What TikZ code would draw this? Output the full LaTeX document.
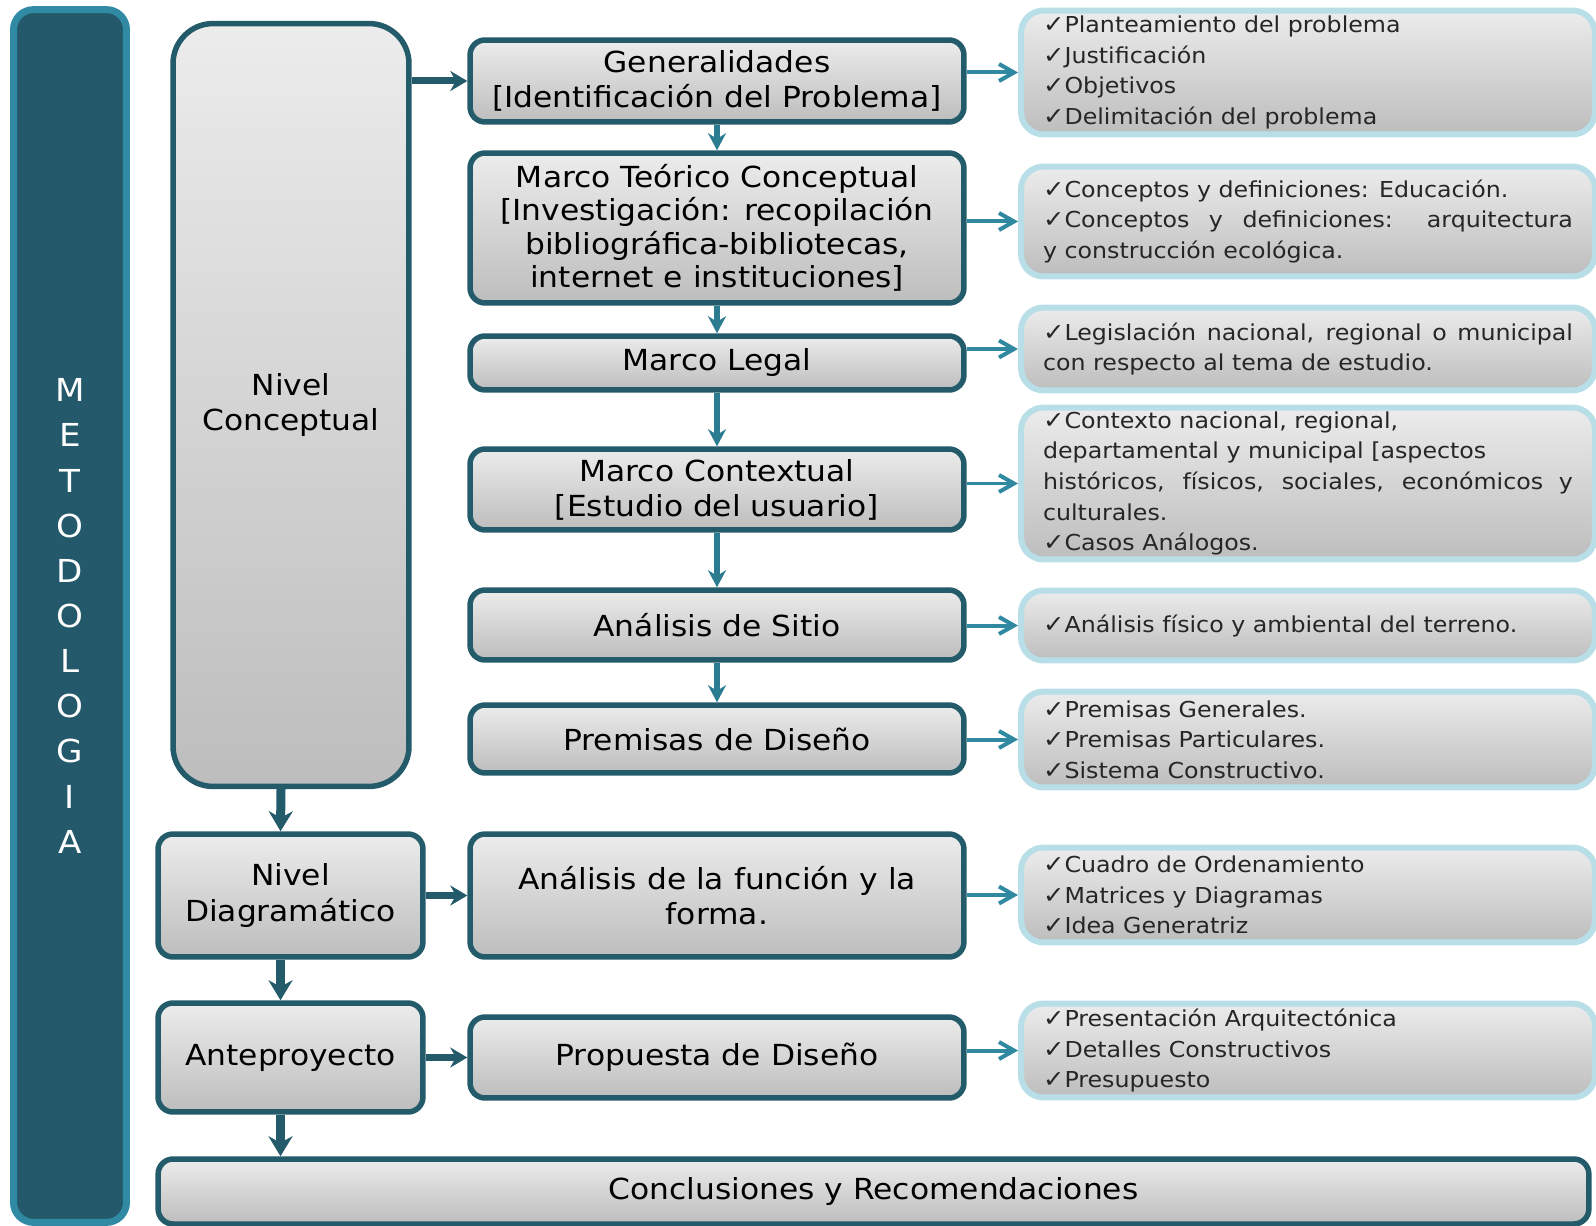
\documentclass[tikz,border=0pt]{standalone}
\usepackage{fontspec}
\setmainfont{DejaVu Sans}[FakeStretch=1.08]
\usepackage{xcolor}
\usetikzlibrary{arrows.meta}
\definecolor{boxline}{HTML}{245B6A}
\definecolor{barfill}{HTML}{23596A}
\definecolor{barline}{HTML}{318AA3}
\definecolor{listline}{HTML}{B8DEE8}
\definecolor{midteal}{HTML}{2B7B91}
\definecolor{lightteal}{HTML}{3089A1}
\definecolor{shadetop}{HTML}{ECECEC}
\definecolor{shadebot}{HTML}{BDBDBD}
\definecolor{listtext}{HTML}{262626}
\newcommand{\chk}{{\fontsize{13.5}{13}\selectfont ✓}}
\setlength{\parindent}{0pt}
\hyphenpenalty=10000
\exhyphenpenalty=10000

\begin{document}
\begin{tikzpicture}[x=0.02cm, y=-0.02cm]
	\tikzstyle{mainbox} = [draw=boxline, line width=0.11cm, rounded corners=0.3cm, top color=shadetop, bottom color=shadebot, align=center, inner sep=0pt, font=\fontsize{16.5}{20}\selectfont]
	\tikzstyle{listbox} = [draw=listline, line width=0.12cm, rounded corners=0.45cm, top color=shadetop, bottom color=shadebot, align=justify, text width=10.6cm, inner xsep=0.44cm, inner ysep=0pt, text=listtext, font=\fontsize{12.5}{17.4}\selectfont]
	\tikzstyle{bigarrow} = [draw=boxline, line width=0.18cm, -{Stealth[length=0.4cm, width=0.48cm]}]
	\tikzstyle{sidearrow} = [draw=boxline, line width=0.14cm, -{Stealth[length=0.34cm, width=0.4cm]}]
	\tikzstyle{midarrow} = [draw=midteal, line width=0.13cm, -{Stealth[length=0.34cm, width=0.36cm]}]
	\tikzstyle{thinarrow} = [draw=lightteal, line width=0.08cm, -{Straight Barb[length=0.3cm, width=0.34cm]}]
	\useasboundingbox (0,0) rectangle (1596,1226);

	% barra lateral
	\node[draw=barline, line width=0.14cm, rounded corners=0.4cm, fill=barfill, minimum width=2.26cm, minimum height=24.26cm, text=white, align=center, font=\fontsize{18}{25.7}\selectfont] (bar) at (70,616) {M\\E\\T\\O\\D\\O\\L\\O\\G\\I\\A};

	% niveles
	\node[mainbox, rounded corners=0.8cm, minimum width=4.72cm, minimum height=15.26cm] (nc) at (291,405) {Nivel\\Conceptual};
	\node[mainbox, minimum width=5.3cm, minimum height=2.46cm] (nd) at (290.5,895.5) {Nivel\\Diagramático};
	\node[mainbox, minimum width=5.3cm, minimum height=2.18cm] (ante) at (290.5,1057.5) {Anteproyecto};
	\node[mainbox, minimum width=28.62cm, minimum height=1.3cm] (concl) at (873.5,1191.5) {Conclusiones y Recomendaciones};

	% etapas
	\node[mainbox, minimum width=9.88cm, minimum height=1.64cm] (gen) at (717,81) {Generalidades\\{[}Identificación del Problema]};
	\node[mainbox, minimum width=9.88cm, minimum height=3cm, font=\fontsize{16.5}{19}\selectfont] (mtc) at (717,228) {Marco Teórico Conceptual\\{[}Investigación: recopilación\\bibliográfica-bibliotecas,\\internet e instituciones]};
	\node[mainbox, minimum width=9.88cm, minimum height=1.08cm] (legal) at (717,363) {Marco Legal};
	\node[mainbox, minimum width=9.88cm, minimum height=1.62cm] (ctx) at (717,489.5) {Marco Contextual\\{[}Estudio del usuario]};
	\node[mainbox, minimum width=9.88cm, minimum height=1.4cm] (sitio) at (717,625) {Análisis de Sitio};
	\node[mainbox, minimum width=9.88cm, minimum height=1.36cm] (prem) at (717,739) {Premisas de Diseño};
	\node[mainbox, minimum width=9.88cm, minimum height=2.46cm] (af) at (717,895.5) {Análisis de la función y la\\forma.};
	\node[mainbox, minimum width=9.88cm, minimum height=1.62cm] (prop) at (717,1057.5) {Propuesta de Diseño};

	% contenidos
	\node[listbox, minimum height=2.48cm] (l1) at (1308,72.5) {\chk Planteamiento del problema\par \chk Justificación\par \chk Objetivos\par \chk Delimitación del problema};
	\node[listbox, minimum height=2.2cm] (l2) at (1308,221.5) {\chk Conceptos y definiciones: Educación.\par \chk Conceptos y definiciones: arquitectura\linebreak y construcción ecológica.};
	\node[listbox, minimum height=1.66cm] (l3) at (1308,349) {\chk Legislación nacional, regional o municipal\linebreak con respecto al tema de estudio.};
	\node[listbox, minimum height=3.04cm] (l4) at (1308,483.5) {\chk Contexto nacional, regional,\par departamental y municipal [aspectos\par históricos, físicos, sociales, económicos y\linebreak culturales.\par \chk Casos Análogos.};
	\node[listbox, minimum height=1.4cm] (l5) at (1308,625.5) {\chk Análisis físico y ambiental del terreno.};
	\node[listbox, minimum height=1.92cm] (l6) at (1308,739.5) {\chk Premisas Generales.\par \chk Premisas Particulares.\par \chk Sistema Constructivo.};
	\node[listbox, minimum height=1.9cm] (l7) at (1308,895) {\chk Cuadro de Ordenamiento\par \chk Matrices y Diagramas\par \chk Idea Generatriz};
	\node[listbox, minimum height=1.88cm] (l8) at (1308,1050.5) {\chk Presentación Arquitectónica\par \chk Detalles Constructivos\par \chk Presupuesto};

	% flechas
	\draw[sidearrow] (nc.east |- gen.west) -- (gen.west);
	\draw[sidearrow] (nd) -- (af);
	\draw[sidearrow] (ante) -- (prop);
	\draw[bigarrow] ([xshift=-0.2cm]nc.south) -- ([xshift=-0.2cm]nd.north);
	\draw[bigarrow] ([xshift=-0.2cm]nd.south) -- ([xshift=-0.2cm]ante.north);
	\draw[bigarrow] ([xshift=-0.2cm]ante.south) -- ([xshift=-0.2cm]ante.south |- concl.north);
	\draw[midarrow] (gen) -- (mtc);
	\draw[midarrow] (mtc) -- (legal);
	\draw[midarrow] (legal) -- (ctx);
	\draw[midarrow] (ctx) -- (sitio);
	\draw[midarrow] (sitio) -- (prem);
	\draw[thinarrow] (gen.east |- l1.west) -- (l1.west);
	\draw[thinarrow] (mtc.east |- l2.west) -- (l2.west);
	\draw[thinarrow] (legal.east |- l3.west) -- (l3.west);
	\draw[thinarrow] (ctx.east |- l4.west) -- (l4.west);
	\draw[thinarrow] (sitio.east |- l5.west) -- (l5.west);
	\draw[thinarrow] (prem.east |- l6.west) -- (l6.west);
	\draw[thinarrow] (af.east |- l7.west) -- (l7.west);
	\draw[thinarrow] (prop.east |- l8.west) -- (l8.west);
\end{tikzpicture}
\end{document}
